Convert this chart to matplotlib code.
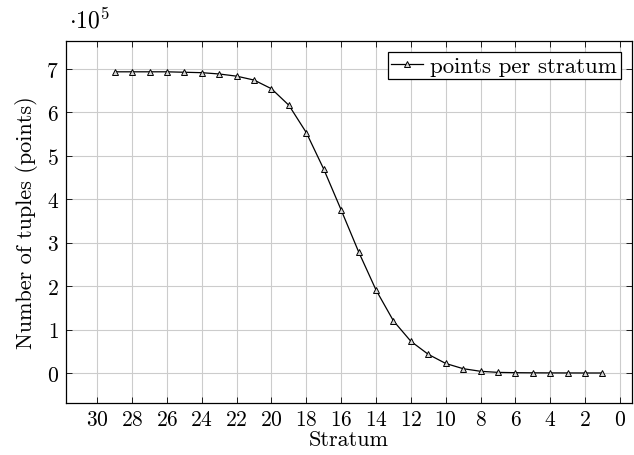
import matplotlib
matplotlib.use("Agg")
import matplotlib.pyplot as plt

# ---- data (values in units of 1e5) ----
strata = [29, 28, 27, 26, 25, 24, 23, 22, 21, 20, 19, 18, 17, 16, 15,
          14, 13, 12, 11, 10, 9, 8, 7, 6, 5, 4, 3, 2, 1]
points = [6.93, 6.93, 6.93, 6.93, 6.92, 6.91, 6.88, 6.83, 6.74, 6.54, 6.16,
          5.53, 4.69, 3.75, 2.79, 1.91, 1.20, 0.73, 0.43, 0.22, 0.10, 0.04,
          0.015, 0.008, 0.005, 0.003, 0.002, 0.001, 0.001]
x_ticks = list(range(30, -1, -2))
y_ticks = list(range(0, 8))

plt.rcParams['font.family'] = 'serif'
plt.rcParams['font.serif'] = ['cmr10']
plt.rcParams['mathtext.fontset'] = 'cm'
plt.rcParams['axes.formatter.use_mathtext'] = True

fig = plt.figure(figsize=(6.34, 4.56), dpi=100)
ax = fig.add_axes([0.104, 0.114, 0.893, 0.794])

ax.plot(strata, points, color='black', linewidth=0.9, marker='^',
        markersize=4.5, markerfacecolor='#d8d8d8', markeredgecolor='black',
        markeredgewidth=0.7, label='points per stratum')

ax.set_xlim(31.8, -0.7)
ax.set_ylim(-0.69, 7.64)
ax.set_xticks(x_ticks)
ax.set_yticks(y_ticks)
ax.grid(True, color='#cccccc', linewidth=0.8)
ax.set_axisbelow(True)
ax.tick_params(direction='in', length=4, width=0.6, labelsize=15.5,
               top=True, right=True, pad=5)
for s in ax.spines.values():
    s.set_linewidth(0.9)

ax.set_xlabel('Stratum', fontsize=16, labelpad=0)
ax.set_ylabel('Number of tuples (points)', fontsize=16, labelpad=6)
ax.text(0.005, 1.025, r'$\cdot10^5$', transform=ax.transAxes, fontsize=17,
        ha='left', va='bottom')

leg = ax.legend(loc='upper right', fontsize=16.5, numpoints=1, fancybox=False,
                framealpha=1, edgecolor='black', handlelength=1.4,
                handletextpad=0.3, borderpad=0.15, borderaxespad=0.5)
leg.get_frame().set_linewidth(0.9)

fig.savefig('out.png', dpi=100)
